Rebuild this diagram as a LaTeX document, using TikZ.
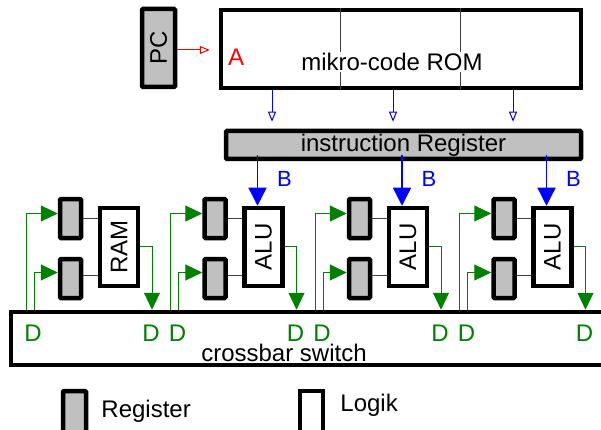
\documentclass[tikz,border=0pt]{standalone}
\usepackage{fontspec}
\setmainfont{Liberation Sans}
\usepackage{graphicx}
\usetikzlibrary{arrows.meta,positioning}
\definecolor{reggray}{RGB}{192,192,192}
\definecolor{dgreen}{RGB}{0,128,0}

\begin{document}
\begin{tikzpicture}[
        x=1pt, y=-1pt,
        every node/.style={font=\fontsize{24}{28}\selectfont, inner sep=0pt},
        reg/.style={draw, line width=4.5pt, rounded corners=1pt, fill=reggray, minimum width=21pt, minimum height=39pt},
        logic/.style={draw, line width=4.5pt, fill=white, minimum width=38pt, minimum height=78pt},
        dline/.style={dgreen, line width=1pt, -{Triangle[length=17pt,width=16pt]}},
        bline/.style={blue, line width=1.3pt, -{Triangle[length=18pt,width=18pt]}},
        oline/.style={blue, line width=1pt, -{Triangle[open,length=10pt,width=8pt]}},
    ]
    \useasboundingbox (0,0) rectangle (601,430);
    % mikro-code part
    \node[reg, minimum width=33pt, minimum height=78pt] (pc) at (158.5,48) {\rotatebox{90}{PC}};
    \node[draw, line width=4.5pt, minimum width=360pt, minimum height=78pt] (rom) at (401,49) {};
    \foreach \x in {340,460}
      \draw[darkgray, line width=1pt] (rom.north -| \x,0) -- (rom.south -| \x,0);
    \node[fill=white, inner sep=1pt] (romtxt) at (392,62) {mikro-code ROM};
    \node[red] (adr) at (236,57) {A};
    \draw[red, line width=1pt, -{Triangle[open,length=10pt,width=8pt]}, shorten >=9pt]
      ([yshift=-2pt]pc.east) -- ([yshift=-2pt]pc.east -| rom.west);
    \node[reg, minimum width=355pt, minimum height=28pt] (ir) at (403.5,145) {instruction Register};
    \foreach \x in {272,393,513}
      \draw[oline] (rom.south -| \x,0) -- ([yshift=7pt]ir.north -| \x,0);
    % crossbar
    \node[draw, line width=4.5pt, minimum width=620pt, minimum height=53pt] (xbar) at (321,338.5) {};
    \node (xlab) at (284,353) {crossbar switch};
    % units
    \foreach \i/\txt in {0/RAM,1/ALU,2/ALU,3/ALU} {
      \pgfmathsetmacro\dx{144.5*\i}
      \node[reg] (ra\i) at (70.5+\dx,218.5) {};
      \node[reg] (rb\i) at (70.5+\dx,278.5) {};
      \node[logic] (lg\i) at (119+\dx,247) {\rotatebox{90}{\txt}};
      \draw[darkgray, line width=1pt] (ra\i.east) -- (ra\i.east -| lg\i.west);
      \draw[darkgray, line width=1pt] ([yshift=3pt]rb\i.east) -- ([yshift=3pt]rb\i.east -| lg\i.west);
      \draw[dline] (xbar.north -| 26+\dx,0) |- ([yshift=5pt]ra\i.west);
      \draw[dline] (xbar.north -| 34+\dx,0) |- ([yshift=6pt]rb\i.west);
      \draw[dline] ([yshift=1pt]lg\i.east) -| (xbar.north -| 152+\dx,0);
      \node[dgreen] (dl\i) at (33+\dx,333) {D};
      \node[dgreen] (dr\i) at (151+\dx,333) {D};
    }
    \foreach \i in {1,2,3} {
      \draw[bline] ([xshift=-6pt,yshift=6pt]lg\i.north |- ir.south) -- ([xshift=-6pt]lg\i.north);
      \node[blue, font=\fontsize{22}{26}\selectfont] (b\i) at ([xshift=21pt,yshift=27pt]lg\i.north) {B};
    }
    % legend
    \node[reg, minimum width=23pt, minimum height=48pt] (kreg) at (74.5,415) {};
    \node[logic, minimum width=23pt, minimum height=48pt] (klog) at (311.5,415) {};
    \node[right=13pt of kreg, yshift=4pt] (kregtxt) {Register};
    \node[right=15pt of klog, yshift=10pt] (klogtxt) {Logik};
\end{tikzpicture}
\end{document}
